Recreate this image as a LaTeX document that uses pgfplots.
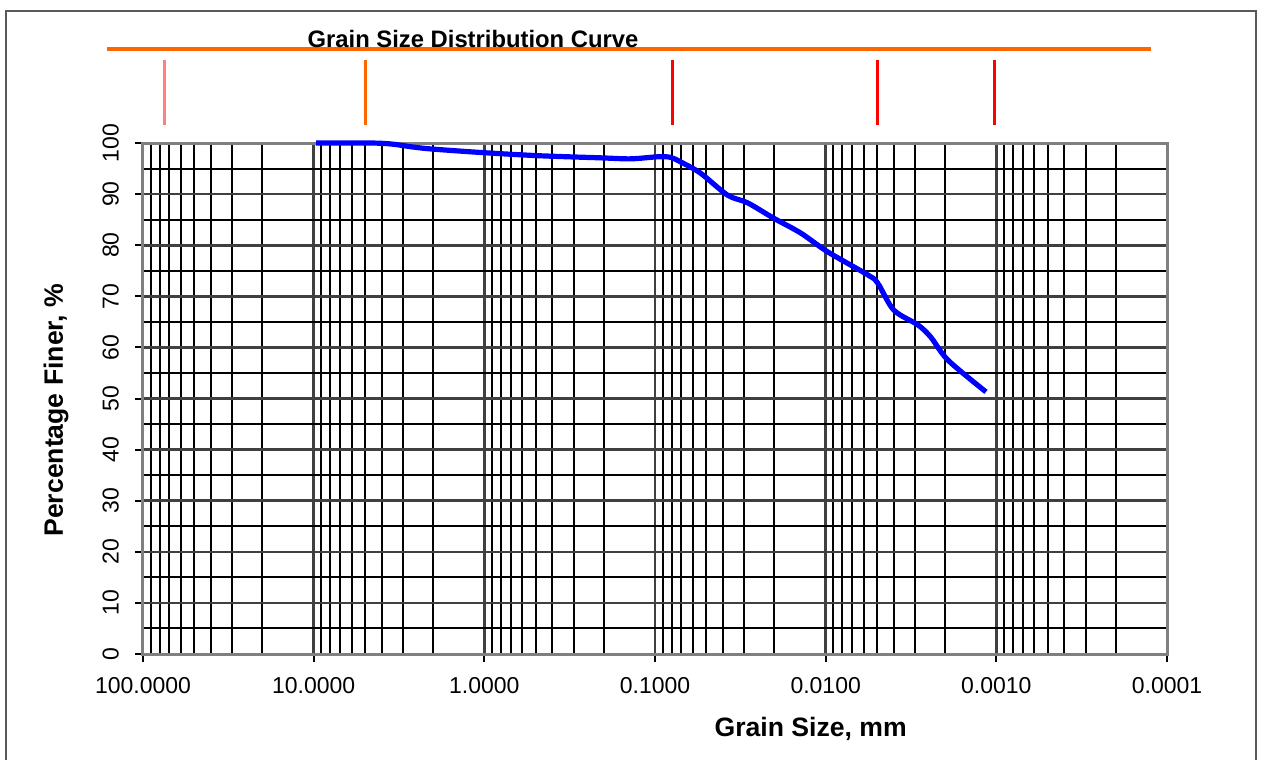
\documentclass[border=0pt]{standalone}
\usepackage{fontspec}
\setmainfont{Liberation Sans}
\usepackage{pgfplots}
\pgfplotsset{compat=1.18}
\definecolor{pinkm}{RGB}{255,128,128}
\definecolor{orangem}{RGB}{255,102,0}
\definecolor{axgray}{RGB}{128,128,128}
\begin{document}
\begin{tikzpicture}[x=0.5pt,y=-0.5pt]
\useasboundingbox (0,0) rectangle (1261,760);
\draw[black!65, line width=1pt] (6,760) -- (6,11) -- (1256,11) -- (1256,760);
\begin{axis}[
  at={(71.5pt,-327pt)}, anchor=south west,
  scale only axis, width=512pt, height=255.5pt,
  xmode=log, x dir=reverse,
  xmin=0.0001, xmax=100, ymin=0, ymax=100,
  clip=false,
  xtick={100,10,1,0.1,0.01,0.001,0.0001},
  xticklabels={100.0000,10.0000,1.0000,0.1000,0.0100,0.0010,0.0001},
  minor xtick={20,30,40,50,60,70,80,90,
               2,3,4,5,6,7,8,9,
               0.2,0.3,0.4,0.5,0.6,0.7,0.8,0.9,
               0.02,0.03,0.04,0.05,0.06,0.07,0.08,0.09,
               0.002,0.003,0.004,0.005,0.006,0.007,0.008,0.009,
               0.0002,0.0003,0.0004,0.0005,0.0006,0.0007,0.0008,0.0009},
  ytick={0,10,...,100},
  minor ytick={5,15,...,95},
  grid=both,
  major grid style={black!75, line width=1.3pt},
  minor grid style={black, line width=1pt},
  axis line style={axgray, line width=1.5pt},
  tick align=outside,
  major tick length=4pt, minor tick length=0pt,
  tick style={black, line width=1pt},
  xtick pos=bottom, ytick pos=left,
  /pgf/number format/assume math mode=true,
  ticklabel style={font=\fontsize{11.5}{13}\selectfont},
  xticklabel style={yshift=-4pt},
  yticklabel style={rotate=90, anchor=south, yshift=4.5pt},
  xlabel={Grain Size, mm},
  ylabel={Percentage Finer, \%},
  label style={font=\fontsize{13.3}{15}\selectfont\bfseries},
  xlabel style={at={(axis description cs:0.652,-0.147)}, anchor=center},
  ylabel style={at={(axis description cs:-0.085,0.477)}, anchor=center, rotate=0},
]
% sieve-boundary markers above the plot
\addplot[orangem, line width=2pt] coordinates {(162.6,118.3) (0.000124,118.3)};
\addplot[pinkm, line width=1.5pt] coordinates {(75,103.6) (75,116.3)};
\addplot[orangem, line width=1.5pt] coordinates {(5,103.6) (5,116.3)};
\addplot[red, line width=1.5pt] coordinates {(0.079,103.6) (0.079,116.3)};
\addplot[red, line width=1.5pt] coordinates {(0.005,103.6) (0.005,116.3)};
\addplot[red, line width=1.5pt] coordinates {(0.00103,103.6) (0.00103,116.3)};
% grain size distribution curve
\addplot[blue, line width=2.6pt, smooth, tension=0.5] coordinates {
(9.67,100) (4.67,100) (3.5,99.8) (2.6,99.2) (1.99,98.8) (1.0,98.1) (0.47,97.5)
(0.209,97.1) (0.139,96.9) (0.0966,97.3) (0.0812,97.2) (0.0708,96.3)
(0.0541,94.1) (0.0376,89.8) (0.0287,88.3) (0.0202,85.3) (0.01403,82.4)
(0.00973,78.7) (0.00567,74.2) (0.00496,72.6) (0.00399,67.3) (0.00288,64.4)
(0.00242,62.0) (0.00192,57.5) (0.00115,51.3)};
\end{axis}
\node[anchor=base, font=\fontsize{11.9}{13}\selectfont\bfseries, inner sep=0pt] at (473,47) {Grain Size Distribution Curve};
\end{tikzpicture}
\end{document}
